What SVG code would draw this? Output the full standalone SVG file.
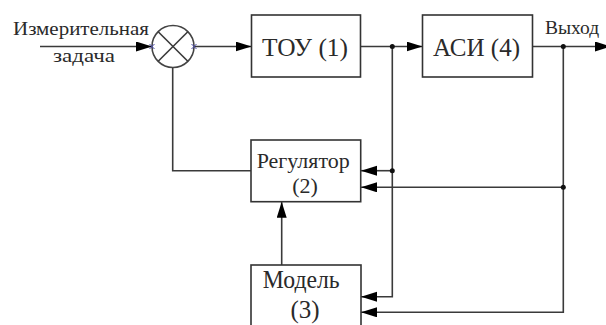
<svg xmlns="http://www.w3.org/2000/svg" width="606" height="325" viewBox="0 0 606 325">
<style>
.ln{fill:none;stroke:#3a3a3a;stroke-width:1.6}
.bx{fill:#fff;stroke:#333;stroke-width:1.6}
.t{font-family:"Liberation Serif","Times New Roman",serif;fill:#2a2a2a}
.dot{fill:#111}
.cp{stroke:#4a4aa8;stroke-width:1}
</style>
<defs>
<marker id="ar" markerUnits="userSpaceOnUse" markerWidth="17" markerHeight="11" refX="16" refY="5" orient="auto">
<path d="M0,0 L16,5 L0,10 z" fill="#000"/>
</marker>
</defs>
<rect width="606" height="325" fill="#fff"/>
<g id="connectors">
<line class="ln" x1="40" y1="46.5" x2="152" y2="46.5" marker-end="url(#ar)"/>
<line class="ln" x1="194" y1="46.5" x2="251.5" y2="46.5" marker-end="url(#ar)"/>
<line class="ln" x1="360.5" y1="46.5" x2="422.5" y2="46.5" marker-end="url(#ar)"/>
<line class="ln" x1="532.5" y1="46.5" x2="611" y2="46.5" marker-end="url(#ar)"/>
<polyline class="ln" points="172.7,67.5 172.7,170.7 251,170.7"/>
<polyline class="ln" points="392.3,46.5 392.3,296.7 361,296.7" marker-end="url(#ar)"/>
<line class="ln" x1="392.3" y1="170.7" x2="361" y2="170.7" marker-end="url(#ar)"/>
<polyline class="ln" points="563.3,46.5 563.3,312.3 361,312.3" marker-end="url(#ar)"/>
<line class="ln" x1="563.3" y1="187.3" x2="361" y2="187.3" marker-end="url(#ar)"/>
<line class="ln" x1="281.7" y1="265" x2="281.7" y2="201.7" marker-end="url(#ar)"/>
<circle class="dot" cx="392.3" cy="46.5" r="2.5"/>
<circle class="dot" cx="563.3" cy="46.5" r="2.5"/>
<circle class="dot" cx="392.3" cy="170.7" r="2.5"/>
<circle class="dot" cx="563.3" cy="187.3" r="2.5"/>
</g>
<g id="input-label">
<text class="t" x="13" y="35" font-size="19.5" textLength="136" lengthAdjust="spacingAndGlyphs">Измерительная</text>
<text class="t" x="53" y="62" font-size="19.5" textLength="62" lengthAdjust="spacingAndGlyphs">задача</text>
</g>
<g id="summator">
<circle cx="173" cy="46.5" r="21" fill="#fff" stroke="#444" stroke-width="1.6"/>
<line class="ln" x1="158.2" y1="31.7" x2="187.8" y2="61.3"/>
<line class="ln" x1="187.8" y1="31.7" x2="158.2" y2="61.3"/>
<path class="cp" d="M149.5,44 l5,5 M154.5,44 l-5,5 M191.5,44 l5,5 M196.5,44 l-5,5"/>
</g>
<g id="tou">
<rect class="bx" x="251.5" y="15" width="109" height="62"/>
<text class="t" x="262" y="56" font-size="25" textLength="86" lengthAdjust="spacingAndGlyphs">ТОУ (1)</text>
</g>
<g id="asi">
<rect class="bx" x="422.5" y="15" width="110" height="62"/>
<text class="t" x="433" y="56" font-size="25" textLength="87" lengthAdjust="spacingAndGlyphs">АСИ (4)</text>
</g>
<g id="output-label">
<text class="t" x="545" y="34" font-size="19.5">Выход</text>
</g>
<g id="regulator">
<rect class="bx" x="251" y="140" width="109.7" height="61.7"/>
<text class="t" x="256.7" y="168" font-size="22" textLength="93" lengthAdjust="spacingAndGlyphs">Регулятор</text>
<text class="t" x="305" y="193" font-size="22" text-anchor="middle">(2)</text>
</g>
<g id="model">
<rect class="bx" x="251" y="265" width="110" height="70"/>
<text class="t" x="262.7" y="288.3" font-size="25" textLength="77" lengthAdjust="spacingAndGlyphs">Модель</text>
<text class="t" x="305" y="318" font-size="25" text-anchor="middle">(3)</text>
</g>
</svg>
